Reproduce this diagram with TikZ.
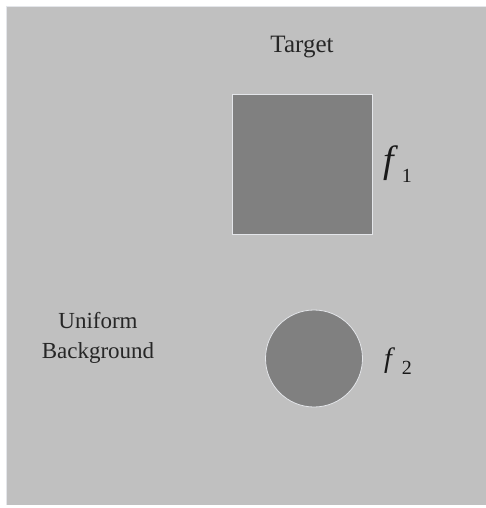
\documentclass[tikz,border=0pt]{standalone}
\usepackage{fontspec}
\setmainfont{Liberation Serif}
\usepackage{xcolor}
\usetikzlibrary{positioning}
\definecolor{bgGray}{HTML}{C0C0C0}
\definecolor{objGray}{HTML}{808080}
\definecolor{rimGray}{HTML}{E4E6EA}

\begin{document}
\begin{tikzpicture}[
  x=1pt, y=-1pt,
  txt/.style={font=\fontsize{23}{30}\selectfont, text=black!85, inner sep=0pt, align=center},
  obj/.style={fill=objGray, draw=rimGray, line width=0.8pt, inner sep=0pt},
  sym/.style={inner sep=0pt, anchor=base west, text=black!90}
]
\useasboundingbox (0,0) rectangle (486,508);
\fill[white] (0,0) rectangle (486,508);
\fill[bgGray] (6,6) rectangle (486,505);
\draw[rimGray, line width=0.6pt] (6,6) -- (486,6);
\draw[rimGray, line width=0.6pt] (6,6) -- (6,505);

\node[obj, rectangle, minimum width=140pt, minimum height=140pt] (target) at (302.5,164) {};
\node[obj, circle, minimum size=97pt] (blob) at (314,358.5) {};

\node[txt, anchor=base, font=\fontsize{25}{30}\selectfont] (targetLbl) at (302,53) {Target};
\node[txt] (bgLbl) at (98,338) {Uniform\\Background};

\node[sym] (fOne) at (383,172) {{\fontsize{38}{38}\selectfont\itshape f}\kern8pt\raisebox{-10pt}{\fontsize{20}{20}\selectfont 1}};
\node[sym] (fTwo) at (384,367) {{\fontsize{28}{28}\selectfont\itshape f}\kern10pt\raisebox{-7pt}{\fontsize{20}{20}\selectfont 2}};
\end{tikzpicture}
\end{document}
